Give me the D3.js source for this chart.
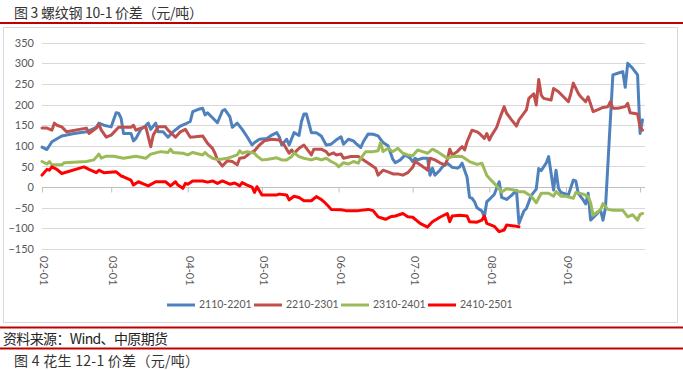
<!DOCTYPE html>
<html><head><meta charset="utf-8">
<script src="https://cdn.jsdelivr.net/npm/d3@7"></script>
<style>
html,body{margin:0;padding:0;background:#fff;}
svg{display:block;}
</style></head>
<body>
<svg id="c" width="683" height="370"></svg>
<script>
// ---------------- data ----------------
const yTicks = [350,300,250,200,150,100,50,0,-50,-100,-150];
const xTickLabels = ["02-01","03-01","04-01","05-01","06-01","07-01","08-01","09-01"];
const seriesNames = ["2110-2201","2210-2301","2310-2401","2410-2501"];
const seriesColors = ["#4f81bd","#c0504d","#9bbb59","#ff0000"];

const dates2110 = ["02-01","02-03","02-05","02-09","02-14","02-19","02-23","02-24","02-26","03-01","03-03","03-04","03-05","03-06","03-09","03-10","03-11","03-13","03-15","03-16","03-17","03-19","03-20","03-22","03-24","03-26","03-29","03-31","04-02","04-03","04-05","04-07","04-08","04-09","04-11","04-13","04-15","04-16","04-18","04-19","04-21","04-23","04-25","04-27","04-28","04-30","05-03","05-05","05-07","05-08","05-09","05-11","05-12","05-14","05-16","05-17","05-18","05-19","05-21","05-23","05-25","05-27","05-29","05-31","06-02","06-03","06-05","06-07","06-08","06-10","06-11","06-13","06-15","06-17","06-19","06-21","06-23","06-24","06-26","06-28","06-30","07-01","07-02","07-03","07-05","07-07","07-08","07-09","07-10","07-12","07-13","07-15","07-17","07-19","07-20","07-21","07-23","07-24","07-25","07-26","07-27","07-29","07-30","07-31","08-01","08-03","08-05","08-06","08-08","08-10","08-12","08-13","08-15","08-16","08-18","08-20","08-21","08-22","08-24","08-25","08-27","08-28","08-29","08-30","09-02","09-04","09-05","09-06","09-08","09-09","09-10","09-11","09-13","09-15","09-16","09-17","09-20","09-22","09-24","09-25","09-26","09-28","09-30","10-01","10-02"];
const values2110 = [97,91,110,124,130,134,145,155,150,146,180,179,167,130,130,112,118,140,149,155,140,155,134,134,121,134,148,153,159,183,188,191,175,180,168,156,185,188,171,145,155,140,122,102,108,116,118,126,132,122,102,116,102,132,125,159,177,177,132,132,124,102,104,114,122,104,116,112,106,96,110,129,128,124,108,100,67,59,66,78,70,62,70,66,70,70,29,46,29,41,49,58,48,46,49,58,24,-25,-27,-35,-50,-58,-72,-35,-30,-18,13,-25,-30,-20,-8,-88,-58,-52,-20,-5,45,40,58,74,-7,41,-3,-13,-19,17,15,-15,-31,-41,-15,-80,-68,-55,-80,-51,272,276,280,242,300,288,272,130,163];

const dates2210 = ["02-01","02-03","02-05","02-06","02-07","02-09","02-11","02-19","02-20","02-23","02-24","02-25","02-27","03-01","03-04","03-09","03-10","03-11","03-13","03-15","03-17","03-18","03-20","03-23","03-24","03-27","03-29","03-31","04-02","04-04","04-07","04-09","04-11","04-12","04-13","04-15","04-17","04-19","04-21","04-22","04-24","04-26","04-28","04-30","05-02","05-05","05-08","05-10","05-12","05-13","05-14","05-16","05-18","05-20","05-21","05-22","05-25","05-27","05-28","05-30","05-31","06-02","06-03","06-06","06-09","06-12","06-14","06-16","06-17","06-19","06-21","06-23","06-25","06-27","06-29","07-01","07-02","07-04","07-06","07-07","07-08","07-10","07-12","07-14","07-15","07-16","07-17","07-19","07-21","07-22","07-23","07-25","07-27","07-28","07-30","07-31","08-01","08-02","08-04","08-05","08-07","08-08","08-10","08-12","08-13","08-14","08-16","08-17","08-19","08-20","08-21","08-22","08-23","08-26","08-27","08-29","08-31","09-02","09-03","09-04","09-06","09-07","09-09","09-10","09-12","09-14","09-16","09-18","09-19","09-20","09-22","09-25","09-26","09-27","09-30","10-01","10-02"];
const values2210 = [143,143,138,155,150,146,134,143,130,143,153,138,121,126,145,145,150,138,143,146,98,126,146,146,138,121,134,140,121,122,124,106,94,82,66,51,64,62,54,70,72,82,88,102,112,116,114,102,82,90,82,94,102,86,78,92,92,86,78,83,78,80,70,74,74,62,54,46,29,41,37,32,32,29,35,48,62,54,46,41,70,66,59,54,66,92,78,86,98,90,110,138,134,130,118,130,114,126,145,163,195,179,163,148,163,171,187,215,226,199,261,223,215,211,239,231,219,207,227,252,227,219,207,219,183,188,193,195,207,191,191,195,203,180,177,145,138];

const dates2310 = ["02-01","02-03","02-04","02-05","02-09","02-10","02-19","02-22","02-24","02-25","02-27","03-02","03-06","03-11","03-15","03-17","03-21","03-24","03-25","03-26","03-30","04-01","04-03","04-07","04-08","04-09","04-11","04-13","04-15","04-17","04-19","04-21","04-22","04-23","04-25","04-28","04-29","05-01","05-03","05-07","05-09","05-11","05-13","05-14","05-16","05-18","05-21","05-23","05-25","05-27","05-29","05-31","06-01","06-03","06-05","06-07","06-09","06-10","06-12","06-15","06-17","06-18","06-19","06-21","06-23","06-25","06-27","06-29","07-01","07-03","07-05","07-07","07-09","07-11","07-13","07-15","07-17","07-19","07-21","07-22","07-24","07-27","07-29","07-31","08-02","08-04","08-06","08-08","08-11","08-13","08-15","08-18","08-20","08-22","08-25","08-27","08-28","08-30","09-01","09-04","09-05","09-08","09-10","09-11","09-12","09-15","09-16","09-18","09-20","09-24","09-26","09-28","09-30","10-01","10-02"];
const values2310 = [62,56,62,54,54,59,62,66,80,70,75,75,70,75,70,80,86,84,92,84,82,78,84,78,84,78,70,67,68,70,74,78,88,82,86,82,75,66,67,71,66,66,74,83,74,70,66,70,66,70,62,56,49,59,56,62,58,70,86,86,88,108,86,94,86,94,82,78,76,90,86,82,92,86,78,70,74,75,74,70,62,55,58,28,15,3,-12,-4,-7,-11,-11,-22,-38,-15,-15,-22,-11,-22,-22,-27,-13,-17,-23,-38,-68,-55,-40,-54,-56,-56,-72,-67,-80,-66,-64];

const dates2410 = ["02-01","02-03","02-04","02-05","02-07","02-09","02-18","02-20","02-23","02-24","02-26","03-03","03-05","03-06","03-09","03-10","03-12","03-14","03-16","03-19","03-23","03-25","03-27","03-28","03-30","03-31","04-01","04-03","04-07","04-09","04-11","04-13","04-15","04-18","04-20","04-22","04-23","04-25","04-27","04-28","04-29","05-01","05-07","05-08","05-11","05-12","05-14","05-16","05-18","05-21","05-23","05-25","05-26","05-28","05-29","06-02","06-04","06-09","06-13","06-15","06-17","06-20","06-22","06-24","06-27","06-29","07-01","07-04","07-07","07-08","07-09","07-12","07-15","07-16","07-17","07-20","07-23","07-24","07-27","07-29","07-30","07-31","08-03","08-05","08-07","08-08","08-11","08-13"];
const values2410 = [29,43,41,49,43,33,49,43,35,41,35,37,27,25,17,5,13,8,3,13,13,3,13,5,-3,9,7,15,15,12,15,9,15,7,10,3,11,5,0,-13,1,-19,-19,-17,-19,-31,-22,-25,-33,-33,-23,-30,-35,-47,-54,-55,-57,-57,-54,-57,-72,-78,-72,-70,-64,-72,-73,-88,-97,-90,-84,-73,-64,-84,-70,-68,-70,-84,-85,-80,-70,-88,-95,-108,-104,-92,-94,-96];

// ---------------- drawing ----------------
const svg = d3.select("#c");
const parse = d3.timeParse("%m-%d");
const fmt = d3.timeFormat("%m-%d");
const cjk = "'Noto Sans CJK SC', sans-serif";

// page decorations
svg.append("text").attr("x",14).attr("y",17.5)
  .attr("font-family",cjk).attr("font-size",14).attr("fill","#333")
  .attr("textLength",189).attr("lengthAdjust","spacing")
  .text("图 3 螺纹钢 10-1 价差（元/吨）");
svg.append("line").attr("x1",0).attr("x2",683).attr("y1",23).attr("y2",23)
  .attr("stroke","#c00000").attr("stroke-width",2);

svg.append("rect").attr("x",3.5).attr("y",27.5).attr("width",674).attr("height",295)
  .attr("fill","#fff").attr("stroke","#d9d9d9");

svg.append("line").attr("x1",0).attr("x2",683).attr("y1",327.5).attr("y2",327.5)
  .attr("stroke","#c00000").attr("stroke-width",2);
svg.append("text").attr("x",3).attr("y",343.5)
  .attr("font-family",cjk).attr("font-size",14).attr("fill","#222")
  .attr("textLength",165).attr("lengthAdjust","spacing")
  .text("资料来源：Wind、中原期货");
svg.append("line").attr("x1",0).attr("x2",683).attr("y1",348.5).attr("y2",348.5)
  .attr("stroke","#c00000").attr("stroke-width",2);
svg.append("text").attr("x",14).attr("y",365.5)
  .attr("font-family",cjk).attr("font-size",14).attr("fill","#333")
  .attr("textLength",185).attr("lengthAdjust","spacing")
  .text("图 4 花生 12-1 价差（元/吨）");

// scales
const x = d3.scaleTime().domain([parse("02-01"), parse("10-03")]).range([42, 645]);
const y = d3.scaleLinear().domain([-150, 350]).range([249, 42.7]);

// gridlines
svg.append("g").selectAll("line").data(yTicks).join("line")
  .attr("x1",42).attr("x2",645)
  .attr("y1",d=>Math.round(y(d))+0.5).attr("y2",d=>Math.round(y(d))+0.5)
  .attr("stroke","#d9d9d9").attr("stroke-width",1);

// y axis labels
const yAxis = d3.axisLeft(y).tickValues(yTicks).tickSize(0).tickPadding(0);
const gy = svg.append("g").attr("transform","translate(34,0)").call(yAxis);
gy.select(".domain").remove();
gy.selectAll("text").attr("font-family","Lato, 'Open Sans', sans-serif")
  .attr("font-size",11).attr("fill","#595959");

// x axis at zero
const monthTicks = d3.timeMonth.range(parse("02-01"), parse("10-02"));
const xAxis = d3.axisBottom(x).tickValues(monthTicks).tickSize(5).tickFormat(d=>{
  const s = fmt(d); return xTickLabels.includes(s) ? s : "";
});
const gx = svg.append("g").attr("transform",`translate(0,${Math.round(y(0))+0.5})`).call(xAxis);
gx.select(".domain").attr("stroke","#bfbfbf").attr("d",`M42,0H645`);
gx.selectAll(".tick line").attr("stroke","#bfbfbf");
gx.selectAll(".tick text").remove();

// x labels rotated, placed below the plot
svg.append("g").selectAll("text").data(monthTicks.filter(d=>xTickLabels.includes(fmt(d)))).join("text")
  .attr("transform",d=>`translate(${x(d)+1},256) rotate(90)`)
  .attr("text-anchor","start").attr("dominant-baseline","middle")
  .attr("font-family","Lato, 'Open Sans', sans-serif").attr("font-size",11).attr("fill","#595959")
  .text(d=>fmt(d));

// series
const allDates = [dates2110, dates2210, dates2310, dates2410];
const allVals = [values2110, values2210, values2310, values2410];
const line = d3.line().x(d=>x(d[0])).y(d=>y(d[1]));
allDates.forEach((ds,i)=>{
  const pts = ds.map((d,j)=>[parse(d), allVals[i][j]]);
  svg.append("path").datum(pts).attr("d",line)
    .attr("fill","none").attr("stroke",seriesColors[i]).attr("stroke-width",3)
    .attr("stroke-linejoin","round").attr("stroke-linecap","round");
});

// legend
const legendX = [167, 254, 341, 428];
const lg = svg.append("g");
seriesNames.forEach((n,i)=>{
  lg.append("line").attr("x1",legendX[i]).attr("x2",legendX[i]+28)
    .attr("y1",305).attr("y2",305).attr("stroke",seriesColors[i]).attr("stroke-width",3);
  lg.append("text").attr("x",legendX[i]+32).attr("y",305).attr("dominant-baseline","middle")
    .attr("font-family","Lato, 'Open Sans', sans-serif").attr("font-size",10.5).attr("fill","#595959")
    .text(n);
});
</script>
</body></html>
